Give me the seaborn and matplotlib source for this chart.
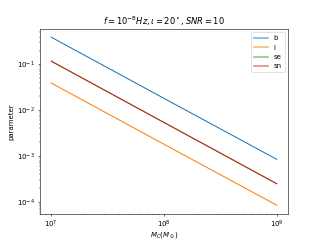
import matplotlib
matplotlib.use("Agg")
import matplotlib.pyplot as plt
import pandas as pd
import seaborn as sns

# chirp mass values (solar masses)
mc = [1e7, 1e8, 1e9]

# parameter curves
b = [0.39, 0.0181, 8.5e-4]
l = [0.039, 0.00181, 8.5e-5]
se = [0.117, 0.0054, 2.5e-4]
sn = [0.117, 0.0054, 2.5e-4]

names = ['b', 'l', 'se', 'sn']
series = [b, l, se, sn]

rows = []
for name, vals in zip(names, series):
    for x, y in zip(mc, vals):
        rows.append({'Mc': x, 'value': y, 'param': name})
df = pd.DataFrame(rows)

fig, ax = plt.subplots(figsize=(6.4, 4.8), dpi=50)
sns.lineplot(data=df, x='Mc', y='value', hue='param', hue_order=names,
             palette=['C0', 'C1', 'C2', 'C3'], ax=ax)
ax.set_xscale('log')
ax.set_yscale('log')
ax.set_xlabel(r'$M_C(M_\odot)$', labelpad=1)
ax.set_ylabel('parameter')
ax.set_title(r'$f=10^{-8}Hz, \iota=20^\circ, SNR=10$')
leg = ax.legend(loc='upper right')
for h in leg.get_lines():
    h.set_linewidth(2.2)
    h.set_alpha(0.6)

plt.savefig('out.png', dpi=50)
